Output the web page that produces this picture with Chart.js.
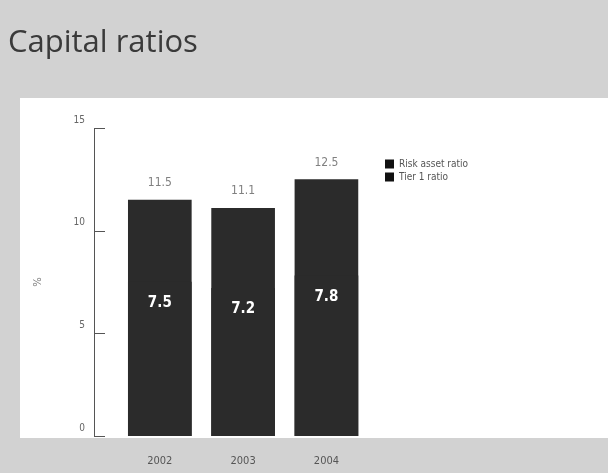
<!DOCTYPE html>
<html>
<head>
<meta charset="utf-8">
<script src="https://cdn.jsdelivr.net/npm/chart.js@4/dist/chart.umd.min.js"></script>
<style>
  html, body { margin: 0; padding: 0; background: #d2d2d2; }
  #wrap { width: 608px; height: 473px; }
</style>
</head>
<body>
<div id="wrap"><canvas id="chart" width="608" height="473"></canvas></div>
<script>
// Capital ratios by year (%)
const years = [2002, 2003, 2004];
const riskAssetRatio = [11.5, 11.1, 12.5];
const tier1Ratio = [7.5, 7.2, 7.8];
const yTicks = [0, 5, 10, 15];

const BAR = '#2b2b2b';

// gray page bands around a white panel
const panelPlugin = {
  id: 'panel',
  beforeDraw(chart) {
    const ctx = chart.ctx;
    ctx.save();
    ctx.fillStyle = '#d2d2d2';
    ctx.fillRect(0, 0, chart.width, chart.height);
    ctx.fillStyle = '#ffffff';
    ctx.fillRect(20, 98, chart.width - 20, chart.chartArea.bottom + 2 - 98);
    ctx.restore();
  }
};

// short tick marks pointing into the plot from the value axis
const innerTicksPlugin = {
  id: 'innerTicks',
  afterDraw(chart) {
    const y = chart.scales.y;
    const ctx = chart.ctx;
    ctx.save();
    ctx.strokeStyle = '#555';
    ctx.lineWidth = 1;
    y.ticks.forEach(t => {
      const py = Math.round(y.getPixelForValue(t.value)) + 0.5;
      ctx.beginPath();
      ctx.moveTo(y.right, py);
      ctx.lineTo(y.right + 11, py);
      ctx.stroke();
    });
    ctx.restore();
  }
};

// value labels: risk asset ratio above the bar, tier 1 inside it
const valueLabelsPlugin = {
  id: 'valueLabels',
  afterDatasetsDraw(chart) {
    const ctx = chart.ctx;
    ctx.save();
    ctx.textAlign = 'center';
    ctx.textBaseline = 'middle';
    const m0 = chart.getDatasetMeta(0);
    ctx.fillStyle = '#808080';
    ctx.font = '12px "DejaVu Sans Condensed", "Liberation Sans Narrow", sans-serif';
    m0.data.forEach((bar, i) => {
      ctx.fillText(riskAssetRatio[i].toFixed(1), bar.x, bar.y - 17);
    });
    const m1 = chart.getDatasetMeta(1);
    ctx.fillStyle = '#ffffff';
    ctx.font = 'bold 15px "DejaVu Sans Condensed", "Liberation Sans Narrow", sans-serif';
    m1.data.forEach((bar, i) => {
      ctx.fillText(tier1Ratio[i].toFixed(1), bar.x, bar.y + 21);
    });
    ctx.restore();
  }
};

// legend drawn inside the plot, top right
const insideLegendPlugin = {
  id: 'insideLegend',
  afterDraw(chart) {
    const ctx = chart.ctx;
    ctx.save();
    ctx.font = '10px "DejaVu Sans Condensed", sans-serif';
    ctx.textBaseline = 'middle';
    ctx.textAlign = 'left';
    chart.data.datasets.forEach((ds, i) => {
      const y = 164 + i * 13;
      ctx.fillStyle = '#111';
      ctx.fillRect(385, y - 4.5, 9, 9);
      ctx.fillStyle = '#555';
      ctx.fillText(ds.label, 399, y);
    });
    ctx.restore();
  }
};

const ctx = document.getElementById('chart').getContext('2d');
new Chart(ctx, {
  type: 'bar',
  data: {
    datasets: [
      {
        label: 'Risk asset ratio',
        data: years.map((x, i) => ({ x, y: riskAssetRatio[i] })),
        backgroundColor: BAR,
        barThickness: 63,
        order: 1
      },
      {
        label: 'Tier 1 ratio',
        data: years.map((x, i) => ({ x, y: tier1Ratio[i] })),
        backgroundColor: BAR,
        barThickness: 63,
        order: 0
      }
    ]
  },
  options: {
    responsive: false,
    animation: false,
    layout: { padding: { left: 8, right: 0, top: 0, bottom: 0 } },
    plugins: {
      legend: { display: false },
      tooltip: { enabled: false },
      title: {
        display: true,
        text: 'Capital ratios',
        align: 'start',
        color: '#3a3a3a',
        font: { family: '"Open Sans", sans-serif', size: 31, weight: 'normal' },
        padding: { top: 25, bottom: 66 }
      }
    },
    datasets: { bar: { grouped: false } },
    scales: {
      x: {
        type: 'linear',
        offset: false,
        min: 2001.21,
        max: 2007.38,
        afterBuildTicks: s => { s.ticks = years.map(v => ({ value: v })); },
        afterFit: s => { s.height = 37; },
        grid: { display: false, drawTicks: false, offset: false },
        border: { display: false },
        ticks: {
          padding: 19,
          color: '#555',
          font: { family: '"DejaVu Sans Condensed", sans-serif', size: 11 },
          callback: v => String(v)
        }
      },
      y: {
        min: 0,
        max: 15,
        afterBuildTicks: s => { s.ticks = yTicks.map(v => ({ value: v })); },
        afterFit: s => { s.width = 86; },
        grid: { display: false, drawTicks: false },
        border: { display: true, color: '#555', width: 1 },
        title: {
          display: true,
          text: '%',
          color: '#777',
          font: { family: '"DejaVu Sans", sans-serif', size: 10 },
          padding: { top: 24, bottom: 0 }
        },
        ticks: {
          padding: 9,
          labelOffset: -8,
          color: '#666',
          font: { family: '"DejaVu Sans Condensed", sans-serif', size: 10 }
        }
      }
    }
  },
  plugins: [panelPlugin, innerTicksPlugin, valueLabelsPlugin, insideLegendPlugin]
});
</script>
</body>
</html>
